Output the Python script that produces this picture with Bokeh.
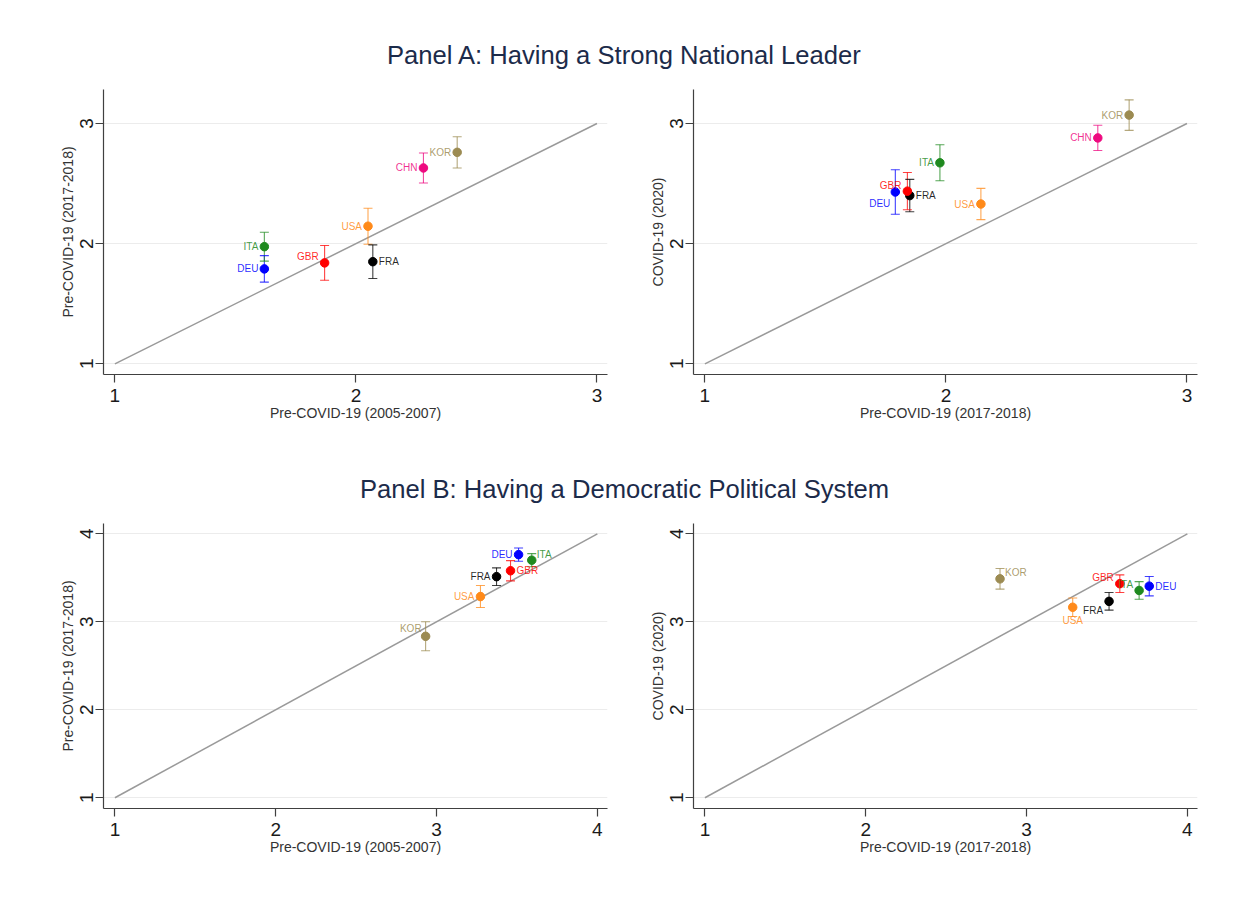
import numpy as np
from bokeh.plotting import figure
from bokeh.models import ColumnDataSource, Range1d, FixedTicker, Label
from bokeh.layouts import column, row
from bokeh.embed import file_html
from bokeh.resources import INLINE
from bokeh.core.properties import value

FONT = "Liberation Sans"

# ------------------------------------------------------------------ data
countries_A = ["CHN", "DEU", "FRA", "GBR", "ITA", "KOR", "USA"]
leader_pre_0507 = [2.28, 1.62, 2.07, 1.87, 1.62, 2.42, 2.05]
leader_pre_1718 = [2.63, 1.79, 1.85, 1.84, 1.975, 2.76, 2.145]
leader_pre_1718_ci = [0.125, 0.11, 0.14, 0.145, 0.12, 0.13, 0.15]
leader_covid_2020 = [2.88, 2.43, 2.40, 2.437, 2.673, 3.07, 2.33]
leader_covid_2020_ci = [0.105, 0.185, 0.135, 0.155, 0.15, 0.127, 0.13]

countries_B = ["DEU", "FRA", "GBR", "ITA", "KOR", "USA"]
democ_pre_0507 = [3.51, 3.373, 3.46, 3.592, 2.932, 3.273]
democ_pre_1718 = [3.763, 3.513, 3.58, 3.70, 2.835, 3.287]
democ_pre_1718_ci = [0.075, 0.10, 0.115, 0.075, 0.165, 0.125]
democ_covid_2020 = [3.405, 3.232, 3.433, 3.356, 3.488, 3.165]
democ_covid_2020_ci = [0.11, 0.10, 0.10, 0.10, 0.117, 0.105]

ticks_A = [1, 2, 3]
ticks_B = [1, 2, 3, 4]

title_A = "Panel A: Having a Strong National Leader"
title_B = "Panel B: Having a Democratic Political System"
lab_pre_0507 = "Pre-COVID-19 (2005-2007)"
lab_pre_1718 = "Pre-COVID-19 (2017-2018)"
lab_covid = "COVID-19 (2020)"

# ------------------------------------------------------------------ style
COLORS = {"CHN": "#ee0a80", "DEU": "#0000ff", "FRA": "#000000", "GBR": "#ff0000",
          "ITA": "#1f8a1f", "KOR": "#9c8b52", "USA": "#ff8a1a"}

# label placement codes: (align, dx, dy down)
POS = {"9": ("right", -6, 0), "3": ("left", 6, 0), "10": ("right", -6, -6),
       "8": ("right", -5, 12), "2": ("left", 5, -6), "11": ("right", -4, -8),
       "6": ("center", 0, 13), "7": ("right", -6, 9), "1": ("left", 5, -6)}

pos_A1 = {"CHN": "9", "DEU": "9", "FRA": "3", "GBR": "10", "ITA": "9", "KOR": "9", "USA": "9"}
pos_A2 = {"CHN": "9", "DEU": "8", "FRA": "3", "GBR": "10", "ITA": "9", "KOR": "9", "USA": "9"}
pos_B1 = {"DEU": "9", "FRA": "9", "GBR": "3", "ITA": "2", "KOR": "11", "USA": "9"}
pos_B2 = {"DEU": "3", "FRA": "7", "GBR": "10", "ITA": "10", "KOR": "1", "USA": "6"}

FRAME_W = 504
FRAME_H = 285


def panel(xv, yv, ci, countries, ticks, xr, yr, xlabel, ylabel, pos, bl, br, bt, bb):
    p = figure(width=FRAME_W + bl + br, height=FRAME_H + bt + bb,
               x_range=Range1d(*xr), y_range=Range1d(*yr),
               toolbar_location=None, output_backend="svg",
               min_border_left=bl, min_border_right=br,
               min_border_top=bt, min_border_bottom=bb)
    p.outline_line_color = None
    p.background_fill_color = "white"
    p.border_fill_color = "white"
    p.xgrid.visible = False
    p.ygrid.grid_line_color = "#ececec"
    p.ygrid.grid_line_width = 1
    for ax in (p.xaxis[0], p.yaxis[0]):
        ax.ticker = FixedTicker(ticks=ticks)
        ax.axis_line_color = "#404040"
        ax.axis_line_width = 1.2
        ax.major_tick_line_color = "#404040"
        ax.major_tick_line_width = 1.2
        ax.major_tick_out = 8
        ax.major_tick_in = 0
        ax.minor_tick_line_color = None
        ax.major_label_text_font = FONT
        ax.major_label_text_font_size = "19px"
        ax.major_label_text_color = "#1a1a1a"
        ax.axis_label_text_font = FONT
        ax.axis_label_text_font_size = "14px"
        ax.axis_label_text_font_style = "normal"
        ax.axis_label_text_color = "#333333"
    p.xaxis.major_label_standoff = 6
    p.xaxis.axis_label_standoff = 0
    p.yaxis.major_label_standoff = 2
    p.yaxis.axis_label_standoff = 2
    p.xaxis.axis_label = xlabel
    p.yaxis.axis_label = ylabel
    p.yaxis.major_label_orientation = "vertical"

    # 45 degree reference line
    p.line([ticks[0], ticks[-1]], [ticks[0], ticks[-1]], line_color="#9a9a9a", line_width=1.5)

    cols = [COLORS[c] for c in countries]
    lo = [y - e for y, e in zip(yv, ci)]
    hi = [y + e for y, e in zip(yv, ci)]
    src = ColumnDataSource(dict(x=xv, y=yv, lo=lo, hi=hi, c=cols, name=countries,
                                align=[POS[pos[c]][0] for c in countries],
                                dx=[POS[pos[c]][1] for c in countries],
                                dy=[POS[pos[c]][2] for c in countries]))
    p.segment(x0="x", y0="lo", x1="x", y1="hi", source=src, line_color="c", line_width=1.1, line_alpha=0.75)
    p.scatter(x="x", y="lo", source=src, marker="dash", size=9, line_color="c", line_width=1.1, line_alpha=0.75)
    p.scatter(x="x", y="hi", source=src, marker="dash", size=9, line_color="c", line_width=1.1, line_alpha=0.75)
    p.scatter(x="x", y="y", source=src, marker="circle", size=8.5, fill_color="c", line_color="c")
    p.text(x="x", y="y", text="name", source=src, text_align="align", text_baseline="middle",
           x_offset="dx", y_offset="dy", text_color="c", text_alpha=0.85,
           text_font=value(FONT), text_font_size="10px")
    return p


def title_fig(text, height, cy_from_top):
    t = figure(width=1234, height=height, x_range=Range1d(0, 1), y_range=Range1d(0, 1),
               toolbar_location=None, output_backend="svg",
               x_axis_location=None, y_axis_location=None,
               min_border_left=0, min_border_right=0, min_border_top=0, min_border_bottom=0)
    t.outline_line_color = None
    t.xgrid.visible = False
    t.ygrid.visible = False
    t.add_layout(Label(x=624, y=height - cy_from_top, x_units="screen", y_units="screen",
                       text=text, text_align="center", text_baseline="middle",
                       text_font=FONT, text_font_size="25.6px", text_color="#1c2b4a"))
    return t


xrA = (0.9527, 3.0436)
yrA = (0.911, 3.283)
xrB = (0.929, 4.063)
yrB = (0.878, 4.117)

pA1 = panel(leader_pre_0507, leader_pre_1718, leader_pre_1718_ci, countries_A, ticks_A,
            xrA, yrA, lab_pre_0507, lab_pre_1718, pos_A1, 103, 12, 20, 75)
pA2 = panel(leader_pre_1718, leader_covid_2020, leader_covid_2020_ci, countries_A, ticks_A,
            xrA, yrA, lab_pre_1718, lab_covid, pos_A2, 74, 37, 20, 75)
pB1 = panel(democ_pre_0507, democ_pre_1718, democ_pre_1718_ci, countries_B, ticks_B,
            xrB, yrB, lab_pre_0507, lab_pre_1718, pos_B1, 103, 12, 14, 60)
pB2 = panel(democ_pre_1718, democ_covid_2020, democ_covid_2020_ci, countries_B, ticks_B,
            xrB, yrB, lab_pre_1718, lab_covid, pos_B2, 74, 37, 14, 60)

tA = title_fig(title_A, 69, 54)
tB = title_fig(title_B, 60, 39)

layout = column(tA, row(pA1, pA2), tB, row(pB1, pB2))
open("out.html", "w").write(file_html(layout, INLINE))
